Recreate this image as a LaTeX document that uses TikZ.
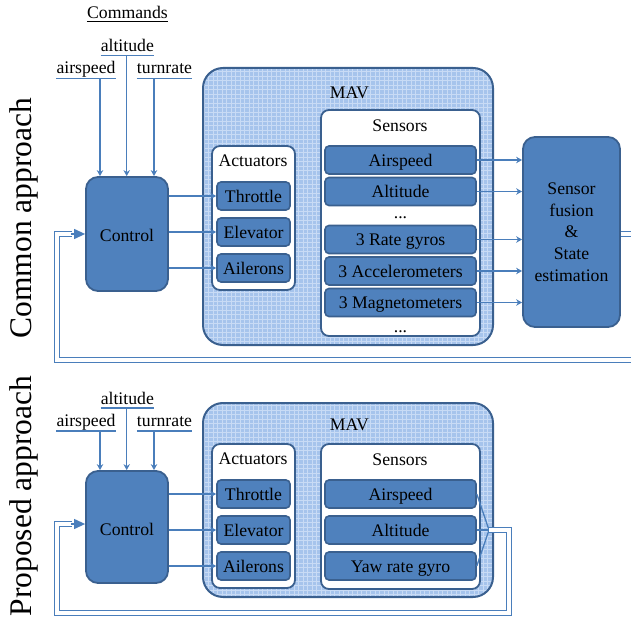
\documentclass[tikz,border=0pt]{standalone}
\usepackage{fontspec}
\setmainfont{Liberation Serif}
\usetikzlibrary{arrows.meta,calc}
\definecolor{blu}{RGB}{79,129,189}
\definecolor{bdr}{RGB}{58,96,143}
\definecolor{arc}{RGB}{74,126,187}
\definecolor{mavbg}{RGB}{166,196,236}
\definecolor{mavln}{RGB}{200,219,245}
\begin{document}
\begin{tikzpicture}[x=1pt,y=-1pt,
  font=\fontsize{17.7}{21.7}\selectfont,
  blk/.style={draw=bdr, fill=blu, line width=1.8pt, rounded corners=12pt, inner sep=0pt, align=center},
  ctlbox/.style={blk, minimum width=82pt, text height=16pt, text depth=0pt},
  itm/.style={draw=bdr, fill=blu, line width=1.6pt, rounded corners=4pt, inner sep=0pt, text height=12.5pt, text depth=0pt},
  actitem/.style={itm, minimum width=73pt, minimum height=28pt},
  senitem/.style={itm, minimum width=151pt, minimum height=28pt},
  cont/.style={draw=bdr, fill=white, line width=1.8pt, rounded corners=8pt, inner sep=0pt},
  mav/.style={draw=bdr, fill=mavbg, line width=2pt, rounded corners=20pt, inner sep=0pt,
     path picture={\draw[mavln, line width=0.8pt, step=4.5pt] (path picture bounding box.south west) grid (path picture bounding box.north east);}},
  lbl/.style={inner sep=0pt, anchor=base},
  side/.style={rotate=90, anchor=base, inner sep=0pt, font=\fontsize{31.5}{38}\selectfont},
  arr/.style={draw=arc, line width=1.4pt, -{Stealth[length=6pt,width=6.5pt,inset=2pt]}},
  ln/.style={draw=arc, line width=1.3pt},
  uline/.style={draw=arc, line width=1.3pt},
  dbl/.style={draw=arc, line width=1.1pt, double=white, double distance=3.5pt},
  tri/.style={draw=arc, line width=1.2pt, -{Triangle[length=11pt,width=10pt]}},
]
\useasboundingbox (0,0) rectangle (631,617);
\clip (0,0) rectangle (631,617);

% side labels
\node[side] (lc) at (31,218) {Common approach};
\node[side] (lp) at (31,496) {Proposed approach};

% ================= upper =================
\node[lbl] (cmd) at (127.5,19) {Commands};
\draw[black, line width=0.7pt] ($(cmd.base west)+(0,2.5)$) -- ($(cmd.base east)+(0,2.5)$);

\node[lbl] (alt1) at (127.3,51.7) {altitude};
\node[lbl] (asp1) at (86,73.8) {airspeed};
\node[lbl] (trn1) at (164.5,73.8) {turnrate};
\draw[uline] ($(alt1.base west)+(0,4)$) -- ($(alt1.base east)+(0,4)$);
\draw[uline] ($(asp1.base west)+(0,4.5)$) -- ($(asp1.base east)+(0,4.5)$);
\draw[uline] ($(trn1.base west)+(0,4.5)$) -- ($(trn1.base east)+(0,4.5)$);

\node[ctlbox, minimum height=114pt] (ctl1) at (127,234) {Control};

\coordinate (ca1) at (100,78.3);
\coordinate (cb1) at (126.7,55.7);
\coordinate (cc1) at (154,78.3);
\draw[arr] (ca1) -- (ca1 |- ctl1.north);
\draw[arr] (cb1) -- (cb1 |- ctl1.north);
\draw[arr] (cc1) -- (cc1 |- ctl1.north);

\node[mav, minimum width=290pt, minimum height=277pt] (mav1) at (348,206.5) {};
\node[lbl] (mavt1) at (349.5,98.3) {MAV};

\node[cont, minimum width=83pt, minimum height=144pt] (act1) at (253.5,218) {};
\node[lbl] (actt1) at (253,166.7) {Actuators};
\node[actitem] (th1) at (253.5,196) {Throttle};
\node[actitem] (el1) at (253.5,232) {Elevator};
\node[actitem] (ai1) at (253.5,268) {Ailerons};

\node[cont, minimum width=159pt, minimum height=226pt] (sen1) at (400.5,223) {};
\node[lbl] (sent1) at (400,131.7) {Sensors};
\node[senitem] (sa1) at (400.5,160) {Airspeed};
\node[senitem] (sb1) at (400.5,191.5) {Altitude};
\node[lbl] (dd1) at (400.5,218.5) {...};
\node[senitem] (sc1) at (400.5,239.5) {3 Rate gyros};
\node[senitem] (sd1) at (400.5,271) {3 Accelerometers};
\node[senitem] (se1) at (400.5,302.5) {3 Magnetometers};
\node[lbl] (dd2) at (400.5,332) {...};

\node[blk, minimum width=97pt, minimum height=190pt] (fus) at (571.5,232) {Sensor\\fusion\\\&\\State\\estimation};

\foreach \a in {th1,el1,ai1}{\draw[arr] (ctl1.east |- \a) -- (\a.west);}
\foreach \s in {sa1,sb1,sc1,sd1,se1}{\draw[arr] (\s.east) -- (\s.east -| fus.west);}

\coordinate (fo1) at ($(fus.east)+(0,2)$);
\coordinate (fi1) at ($(ctl1.west)+(-13,0)$);
\draw[dbl] (fo1) -- (660,234) -- (660,360) -- (57,360) -- (57,234) -- (fi1);
\draw[tri] ($(fi1)+(-1,0)$) -- (ctl1.west);

% ================= lower =================
\node[lbl] (alt2) at (127.3,404) {altitude};
\node[lbl] (asp2) at (86,426.5) {airspeed};
\node[lbl] (trn2) at (164.5,426.5) {turnrate};
\draw[uline] ($(alt2.base west)+(0,4)$) -- ($(alt2.base east)+(0,4)$);
\draw[uline] ($(asp2.base west)+(0,4.5)$) -- ($(asp2.base east)+(0,4.5)$);
\draw[uline] ($(trn2.base west)+(0,4.5)$) -- ($(trn2.base east)+(0,4.5)$);

\node[ctlbox, minimum height=112pt] (ctl2) at (127,527) {Control};

\coordinate (ca2) at (100,431);
\coordinate (cb2) at (126.7,408);
\coordinate (cc2) at (154,431);
\draw[arr] (ca2) -- (ca2 |- ctl2.north);
\draw[arr] (cb2) -- (cb2 |- ctl2.north);
\draw[arr] (cc2) -- (cc2 |- ctl2.north);

\node[mav, minimum width=290pt, minimum height=194pt] (mav2) at (348,500) {};
\node[lbl] (mavt2) at (349.5,430.7) {MAV};

\node[cont, minimum width=83pt, minimum height=144pt] (act2) at (253.5,516) {};
\node[lbl] (actt2) at (253,464.3) {Actuators};
\node[actitem] (th2) at (253.5,494) {Throttle};
\node[actitem] (el2) at (253.5,530) {Elevator};
\node[actitem] (ai2) at (253.5,566) {Ailerons};

\node[cont, minimum width=159pt, minimum height=145pt] (sen2) at (400.5,516.5) {};
\node[lbl] (sent2) at (400,465) {Sensors};
\node[senitem] (sa2) at (400.5,494) {Airspeed};
\node[senitem] (sb2) at (400.5,530) {Altitude};
\node[senitem] (sg2) at (400.5,566) {Yaw rate gyro};

\foreach \a in {th2,el2,ai2}{\draw[arr] (ctl2.east |- \a) -- (\a.west);}

\coordinate (j2) at (489,530);
\draw[ln] (sa2.east) -- (j2);
\draw[ln] (sb2.east) -- (j2);
\draw[ln] (sg2.east) -- (j2);

\coordinate (fi2) at ($(ctl2.west)+(-13,-3)$);
\coordinate (ce2) at ($(ctl2.west)+(0,-3)$);
\draw[dbl] (j2) -- (509,530) -- (509,613) -- (57,613) -- (57,524) -- (fi2);
\draw[tri] ($(fi2)+(-1,0)$) -- (ce2);
\end{tikzpicture}
\end{document}
